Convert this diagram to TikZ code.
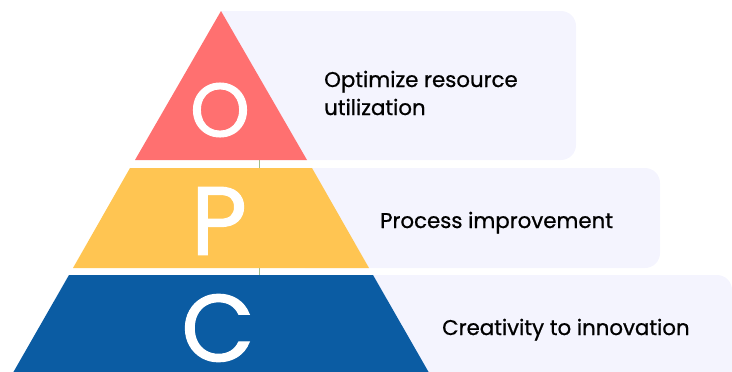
\documentclass[tikz,border=0pt]{standalone}
\usepackage{fontspec}
\setmainfont{Poppins}
\newfontfamily\labfont[FakeBold=0.8]{Poppins}
\newfontfamily\letfont[FakeBold=1.2]{Poppins}
\definecolor{tred}{RGB}{255,112,112}
\definecolor{tyel}{RGB}{255,197,82}
\definecolor{tblue}{RGB}{11,92,163}
\definecolor{boxbg}{RGB}{244,244,254}
\definecolor{guide}{RGB}{160,190,140}
\begin{document}
\begin{tikzpicture}[x=1pt,y=-1pt,
  panel/.style={fill=boxbg},
  letter/.style={text=white,inner sep=0pt,anchor=center},
  label/.style={text=black,inner sep=0pt,anchor=base west,font=\labfont\fontsize{21.3}{29}\selectfont}]
\useasboundingbox (0,0) rectangle (732,372);
% panels
\fill[panel] (221,11) -- (561,11) arc[start angle=90,end angle=0,radius=15pt] -- (576,145) arc[start angle=0,end angle=-90,radius=15pt] -- (221,160) -- cycle;
\fill[panel,rounded corners=15pt] (290,168) rectangle (660,268);
\fill[panel,rounded corners=15pt] (340,275) rectangle (732,400);
% guide line
\coordinate (g1) at (259,160);
\coordinate (g2) at (259,275);
\draw[guide,line width=0.6pt] (g1) -- (g2);
% pyramid
\fill[tred] (221,11) -- (307,160) -- (135,160) -- cycle;
\fill[tyel] (130,168) -- (312,168) -- (369,268) -- (73,268) -- cycle;
\fill[tblue] (69,275) -- (373,275) -- (432,378) -- (10,378) -- cycle;
% letters
\node[letter,font=\letfont\fontsize{76}{76}\selectfont] (O) at (220,110) {O};
\node[letter,font=\letfont\fontsize{97}{97}\selectfont] (P) at (219,221) {P};
\node[letter,font=\letfont\fontsize{95}{95}\selectfont] (C) at (218,328) {C};
% labels
\node[label] (t1) at (324,87) {Optimize resource};
\node[label] (t1b) at (324,115) {utilization};
\node[label] (t2) at (380,228) {Process improvement};
\node[label] (t3) at (442,335) {Creativity to innovation};
\end{tikzpicture}
\end{document}
